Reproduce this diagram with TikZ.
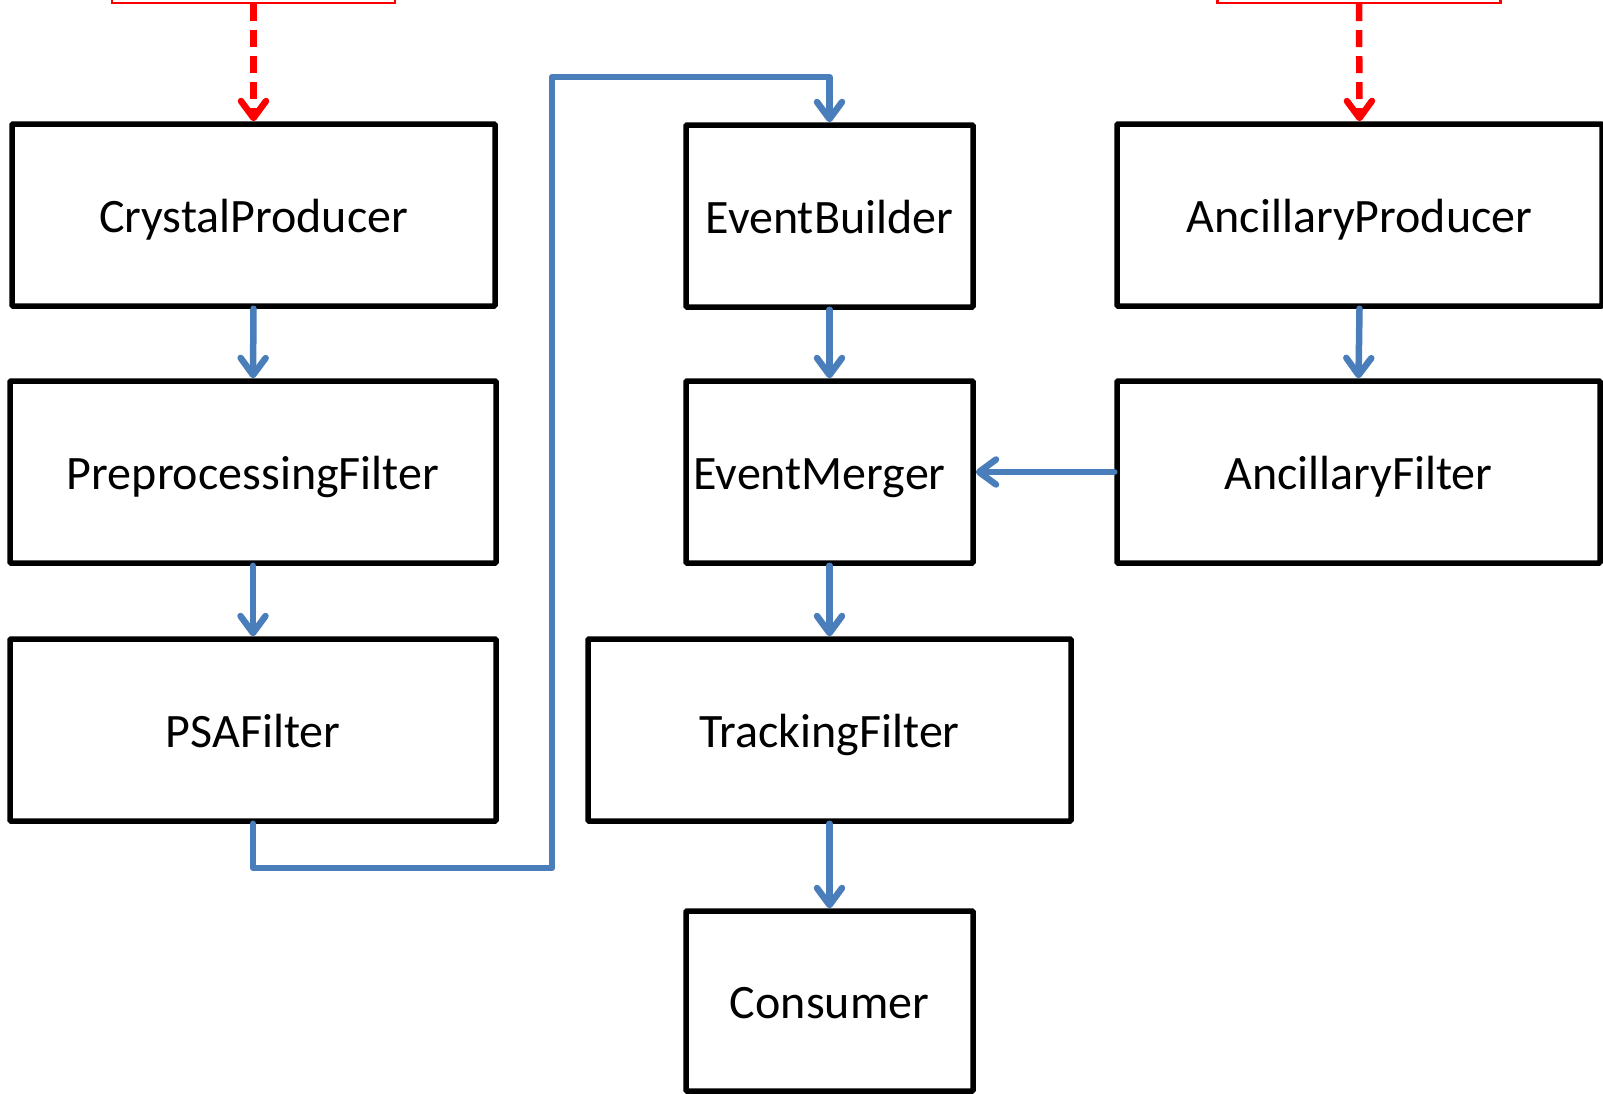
\documentclass[tikz,border=0pt]{standalone}
\usepackage{fontspec}
\setmainfont{Carlito}
\usetikzlibrary{arrows.meta}
\definecolor{flowblue}{RGB}{74,126,187}
\begin{document}
\begin{tikzpicture}[x=1pt,y=-1pt,
  box/.style={draw=black,line width=5.5pt,rounded corners=1pt,rectangle,inner sep=0pt,
    minimum height=182pt,text height=35pt,text depth=0pt,font=\fontsize{48}{58}\selectfont},
  redbox/.style={draw=red,line width=2.2pt,rectangle,inner sep=0pt,minimum width=283pt,minimum height=63pt},
  flow/.style={draw=flowblue,line width=6.5pt,line cap=round,line join=round,
    -{Straight Barb[length=17pt,width=25pt,line cap=round,line join=round]}},
  redflow/.style={draw=red,line width=6.5pt,dash pattern=on 17pt off 9pt,
    -{Straight Barb[length=17pt,width=25pt,line cap=round,line join=round]}}]
\useasboundingbox (0,0) rectangle (1603,1093);
\clip (0,0) rectangle (1603,1093);
% source boxes (cut off at top)
\node[redbox] (srcL) at (253.5,-28.5) {};
\node[redbox] (srcR) at (1359,-28.5) {};
% boxes
\node[box,minimum width=483pt] (crystal) at (253.5,215) {CrystalProducer};
\node[box,minimum width=486pt] (preproc) at (253,472) {PreprocessingFilter};
\node[box,minimum width=486pt] (psa) at (253,730) {PSAFilter};
\node[box,minimum width=287pt] (eb) at (829.5,216) {EventBuilder};
\node[box,minimum width=287pt] (em) at (829.5,472) {\hspace*{-20pt}EventMerger};
\node[box,minimum width=483pt] (tf) at (829.5,730) {TrackingFilter};
\node[box,minimum width=287pt,minimum height=180pt] (cons) at (829.5,1001) {Consumer};
\node[box,minimum width=485pt] (ap) at (1359.5,215) {AncillaryProducer};
\node[box,minimum width=483pt] (af) at (1358.5,472) {AncillaryFilter};
% connectors
\draw[redflow] (srcL.south) -- (crystal.north);
\draw[redflow] (srcR.south) -- (ap.north);
\draw[flow] (crystal.south) -- (preproc.north);
\draw[flow] (preproc.south) -- (psa.north);
\coordinate (loopLow) at (552,868);
\coordinate (loopTop) at (552,77);
\draw[flow] (psa.south) |- (loopLow) -- (loopTop) -| (eb.north);
\draw[flow] (eb.south) -- (em.north);
\draw[flow] (em.south) -- (tf.north);
\draw[flow] (tf.south) -- (cons.north);
\draw[flow] (ap.south) -- (af.north);
\draw[flow] (af.west) -- (em.east);
\end{tikzpicture}
\end{document}
